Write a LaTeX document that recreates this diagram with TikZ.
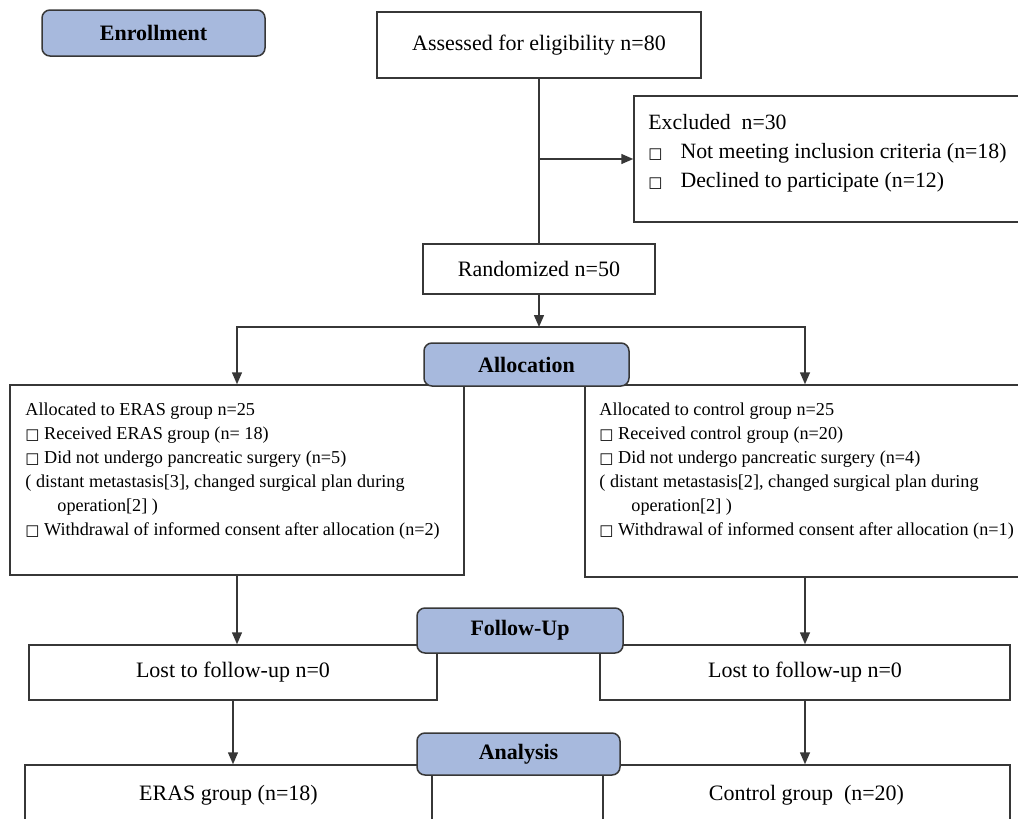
\documentclass[tikz,border=0pt]{standalone}
\usepackage{fontspec}
\setmainfont{Liberation Serif}
\newfontfamily\symfont{DejaVu Sans}
\usetikzlibrary{arrows.meta}
\definecolor{labelblue}{RGB}{167,185,221}
\definecolor{linegray}{RGB}{55,55,55}
\newcommand{\sqbox}{{\symfont\fontsize{7.5}{7.5}\selectfont □}}

\begin{document}
\begin{tikzpicture}[x=0.5pt, y=-0.5pt,
    every node/.style={inner sep=0pt},
    box/.style={draw=linegray, line width=0.75pt, fill=white, font=\fontsize{11}{13}\selectfont},
    stage/.style={draw=linegray, line width=0.75pt, fill=labelblue, rounded corners=4pt, font=\bfseries\fontsize{11}{13}\selectfont},
    txt/.style={align=left, font=\fontsize{10.9}{14.5}\selectfont},
    smalltxt/.style={align=left, font=\fontsize{9.1}{12}\selectfont},
    link/.style={draw=linegray, line width=0.75pt},
    arr/.style={link, -{Triangle[length=6pt, width=5pt]}}]
    \useasboundingbox (0,0) rectangle (1018,819);
    \clip (0,0) rectangle (1018,819);

    % boxes
    \node[box, minimum width=162pt, minimum height=33pt] (assess) at (539,45) {Assessed for eligibility n=80};
    \node[box, minimum width=198pt, minimum height=63pt] (excl) at (832,159) {};
    \node[txt, anchor=north west] (excltxt) at (648,114) {Excluded\ \ n=30\\
        \sqbox\hspace{9pt}Not meeting inclusion criteria (n=18)\\
        \sqbox\hspace{9pt}Declined to participate (n=12)};
    \node[box, minimum width=116pt, minimum height=25pt] (rand) at (539,269) {Randomized n=50};
    \node[box, minimum width=227pt, minimum height=95pt] (leftb) at (237,480) {};
    \node[box, minimum width=220pt, minimum height=96pt] (rightb) at (805,481) {};
    \node[smalltxt, anchor=north west] (lefttxt) at (25,402) {Allocated to ERAS group n=25\\
        \sqbox\ Received ERAS group (n= 18)\\
        \sqbox\ Did not undergo pancreatic surgery (n=5)\\
        ( distant metastasis[3], changed surgical plan during\\
        \hspace*{16pt}operation[2] )\\
        \sqbox\ Withdrawal of informed consent after allocation (n=2)};
    \node[smalltxt, anchor=north west] (righttxt) at (599,402) {Allocated to control group n=25\\
        \sqbox\ Received control group (n=20)\\
        \sqbox\ Did not undergo pancreatic surgery (n=4)\\
        ( distant metastasis[2], changed surgical plan during\\
        \hspace*{16pt}operation[2] )\\
        \sqbox\ Withdrawal of informed consent after allocation (n=1)};
    \node[box, minimum width=204pt, minimum height=27.5pt] (lostl) at (233,672.5) {Lost to follow-up n=0};
    \node[box, minimum width=205pt, minimum height=27.5pt] (lostr) at (805,672.5) {Lost to follow-up n=0};
    \node[box, minimum width=203.5pt, minimum height=30pt] (erasb) at (228.5,795) {ERAS group (n=18)};
    \node[box, minimum width=203.5pt, minimum height=30pt] (ctrlb) at (806.5,795) {Control group\ \ (n=20)};

    % connectors
    \draw[link] (assess.south) -- (rand.north);
    \coordinate (split) at (assess.south |- excl.west);
    \draw[arr] (split) -- (excl.west);
    \coordinate (fork) at (539,327);
    \draw[arr] (rand.south) -- (fork);
    \draw[arr] (fork) -| (leftb.north);
    \draw[arr] (fork) -| (rightb.north);
    \draw[arr] (leftb.south) -- (leftb.south |- lostl.north);
    \draw[arr] (rightb.south) -- (rightb.south |- lostr.north);
    \draw[arr] (lostl.south) -- (lostl.south |- erasb.north);
    \draw[arr] (lostr.south) -- (lostr.south |- ctrlb.north);

    % stage labels
    \node[stage, minimum width=111.5pt, minimum height=23pt] (enroll) at (153.5,33) {Enrollment};
    \node[stage, minimum width=102.5pt, minimum height=21.5pt] (alloc) at (526.5,364.5) {Allocation};
    \node[stage, minimum width=103pt, minimum height=22.5pt] (follow) at (520,630.5) {Follow-Up};
    \node[stage, minimum width=101.5pt, minimum height=21pt] (anal) at (518.5,754) {Analysis};
\end{tikzpicture}
\end{document}
